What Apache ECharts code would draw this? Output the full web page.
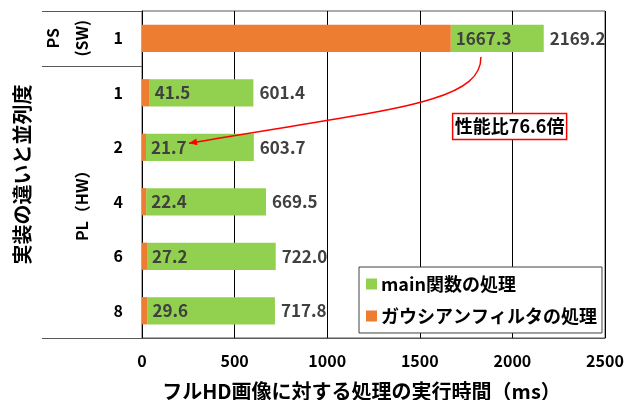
<!DOCTYPE html>
<html><head><meta charset="utf-8">
<script src="https://cdn.jsdelivr.net/npm/echarts@6/dist/echarts.min.js"></script>
<style>html,body{margin:0;padding:0;background:#fff}#c{width:627px;height:400px}</style>
</head><body><div id="c"></div>
<script>
const categories = ['1', '1', '2', '4', '6', '8'];
const groupLabels = ['PS\n(SW)', 'PL（HW）'];
const groupRanges = [[0, 0], [1, 5]];
const gaussTimes = [1667.3, 41.5, 21.7, 22.4, 27.2, 29.6];
const totalTimes = [2169.2, 601.4, 603.7, 669.5, 722.0, 717.8];
const seriesNames = ['main関数の処理', 'ガウシアンフィルタの処理'];
const xMin = 0, xMax = 2500, xInterval = 500;
const xTitle = 'フルHD画像に対する処理の実行時間（ms）';
const yTitle = '実装の違いと並列度';
const ratioText = '性能比76.6倍';

const FONT = '"Noto Sans CJK JP", "Noto Sans", sans-serif';
const mainRest = totalTimes.map((t, i) => +(t - gaussTimes[i]).toFixed(1));

const chart = echarts.init(document.getElementById('c'), null, {renderer: 'canvas'});
chart.setOption({
  animation: false,
  textStyle: {fontFamily: FONT},
  grid: {left: 142, right: 22, top: 11, bottom: 62, show: true, borderColor: '#595959', borderWidth: 1,
    containLabel: false, outerBoundsMode: 'none'},
  legend: {
    data: seriesNames, orient: 'vertical', left: 359, top: 267,
    padding: [8, 5, 8, 7], itemGap: 14, itemWidth: 11, itemHeight: 11, icon: 'rect',
    backgroundColor: '#fff', borderColor: '#404040', borderWidth: 1,
    textStyle: {fontFamily: FONT, fontSize: 18, fontWeight: 'bold', color: '#000', padding: [0, 0, 0, -1]}
  },
  xAxis: {
    type: 'value', min: xMin, max: xMax, interval: xInterval,
    axisLine: {show: true, lineStyle: {color: '#595959'}},
    axisTick: {show: false},
    splitLine: {show: true, lineStyle: {color: '#000', width: 1}},
    axisLabel: {fontFamily: FONT, fontSize: 16, fontWeight: 'bold', color: '#000', margin: 15, formatter: v => String(v)},
    name: xTitle, nameLocation: 'middle', nameGap: 43,
    nameTextStyle: {fontFamily: FONT, fontSize: 20, fontWeight: 'bold', color: '#000', padding: [0, 24, 0, 0]}
  },
  yAxis: {
    type: 'category', data: categories, inverse: true,
    axisLine: {show: true, lineStyle: {color: '#000'}},
    axisTick: {show: false},
    axisLabel: {fontFamily: FONT, fontSize: 16, fontWeight: 'bold', color: '#000', margin: 19},
    name: yTitle, nameLocation: 'middle', nameGap: 110, nameRotate: 90,
    nameTextStyle: {fontFamily: FONT, fontSize: 20, fontWeight: 'bold', color: '#000'}
  },
  series: [
    {
      name: seriesNames[1], type: 'bar', stack: 's', data: gaussTimes, barCategoryGap: '50%',
      itemStyle: {color: '#ED7D31'},
      label: {show: true, position: 'right', distance: 5, formatter: p => p.value.toFixed(1),
        fontFamily: FONT, fontSize: 17, fontWeight: 'bold', color: '#404040'},
      z: 3
    },
    {
      name: seriesNames[0], type: 'bar', stack: 's', data: mainRest,
      itemStyle: {color: '#92D050'},
      label: {show: true, position: 'right', distance: 6, formatter: p => totalTimes[p.dataIndex].toFixed(1),
        fontFamily: FONT, fontSize: 17, fontWeight: 'bold', color: '#404040'},
      z: 2
    }
  ]
});

function px(v, c) { return chart.convertToPixel({gridIndex: 0}, [v, c]); }
const c0 = px(0, 0), c1 = px(0, 1);
const step = c1[1] - c0[1];
const gridTop = c0[1] - step / 2;
const gridBottom = px(0, categories.length - 1)[1] + step / 2;
const x0 = c0[0];
const leftX = 42;
const graphics = [];
const boundaries = [gridTop, gridTop + step, gridBottom];
boundaries.forEach(y => graphics.push({type: 'line', shape: {x1: leftX, y1: Math.round(y) + 0.5, x2: x0, y2: Math.round(y) + 0.5},
  style: {stroke: '#595959', lineWidth: 1}, silent: true}));
groupRanges.forEach((r, i) => {
  const yc = (px(0, r[0])[1] + px(0, r[1])[1]) / 2;
  graphics.push({type: 'text', x: i === 0 ? 67 : 82, y: yc, rotation: Math.PI / 2,
    style: {text: groupLabels[i], font: 'bold 16px ' + FONT, fill: '#000', align: 'center', verticalAlign: 'middle', lineHeight: 29},
    silent: true});
});
// curved arrow
const barHalf = step * 0.25;
const s = px(1830, 0); const sx = s[0], sy = s[1] + barHalf + 5;
const e = px(gaussTimes[2], 2); const ex = e[0] + 43, ey = e[1] - 4;
const cp1 = [sx + 1, sy + 48], cp2 = [sx - 100, sy + 53];
graphics.push({type: 'bezierCurve', shape: {x1: sx, y1: sy, x2: ex, y2: ey, cpx1: cp1[0], cpy1: cp1[1], cpx2: cp2[0], cpy2: cp2[1]},
  style: {stroke: '#FF0000', lineWidth: 1.5, fill: null}, silent: true, z: 100});
const ang = Math.atan2(ey - cp2[1], ex - cp2[0]);
const L = 8, W = 3.5;
const bx = ex - L * Math.cos(ang), by = ey - L * Math.sin(ang);
graphics.push({type: 'polygon', shape: {points: [[ex, ey], [bx + W * Math.sin(ang), by - W * Math.cos(ang)], [bx - W * Math.sin(ang), by + W * Math.cos(ang)]]},
  style: {fill: '#FF0000'}, silent: true, z: 100});
// ratio box
const bxc = px(1985, 0)[0];
const byc = px(0, 1)[1] + step * 0.62;
graphics.push({type: 'rect', shape: {x: bxc - 57, y: byc - 13, width: 114, height: 26},
  style: {fill: '#fff', stroke: '#FF0000', lineWidth: 1.5}, silent: true, z: 110});
graphics.push({type: 'text', x: bxc, y: byc, style: {text: ratioText, font: 'bold 18px ' + FONT, fill: '#000', align: 'center', verticalAlign: 'middle'},
  silent: true, z: 111});
chart.setOption({graphic: graphics});
</script></body></html>
